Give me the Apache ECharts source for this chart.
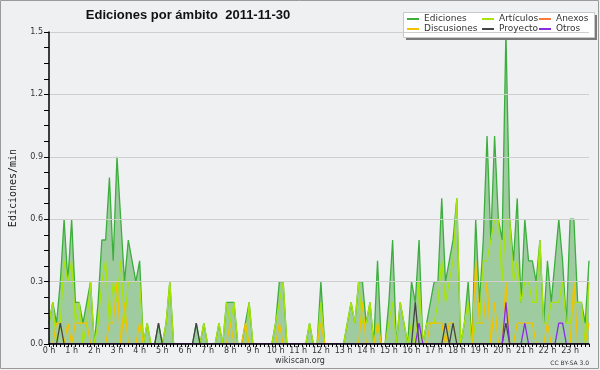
<!DOCTYPE html>
<html>
<head>
<meta charset="utf-8">
<script src="https://cdn.jsdelivr.net/npm/echarts@6/dist/echarts.min.js"></script>
<style>
html,body{margin:0;padding:0;background:#eff0f2;}
#c{width:600px;height:370px;}
</style>
</head>
<body>
<div id="c"></div>
<script>
// 10-minute slots, 0..143 (24 h)
const slotsPerHour = 6;
const categories = [];
for (let i = 0; i < 144; i++) {
  categories.push(Math.floor(i / slotsPerHour) + ':' + String((i % slotsPerHour) * 10).padStart(2, '0'));
}
const seriesNames = ['Ediciones', 'Artículos', 'Anexos', 'Discusiones', 'Proyecto', 'Otros'];

const ediciones = [
  0.1,0.2,0.1,0.3,0.6,0.3,0.6,0.2,0.2,0.1,0.2,0.3,
  0,0.2,0.5,0.5,0.8,0.4,0.9,0.6,0.3,0.5,0.4,0.3,
  0.4,0,0.1,0,0,0.1,0,0.1,0.3,0,0,0,
  0,0,0,0.1,0,0.1,0,0,0,0.1,0,0.2,
  0.2,0.2,0,0,0.1,0.2,0,0,0,0,0,0,
  0.1,0.3,0.3,0,0,0,0,0,0,0.1,0,0,
  0.3,0,0,0,0,0,0,0.1,0.2,0.1,0.3,0.3,
  0.1,0.2,0,0.4,0,0,0.2,0.5,0,0.2,0.1,0,
  0.3,0.2,0.5,0,0.1,0.2,0.3,0.3,0.7,0.3,0.4,0.5,
  0.7,0,0.1,0.3,0,0.6,0.2,0.5,1.0,0.5,1.0,0.6,
  0.5,1.5,0.6,0.4,0.7,0.2,0.6,0.4,0.4,0.3,0.5,0.1,
  0.4,0.2,0.4,0.6,0.4,0.1,0.6,0.6,0.2,0.2,0.1,0.4
];
const articulos = [
  0.1,0.2,0,0.1,0.4,0.3,0.4,0.1,0.2,0,0.1,0.3,
  0,0.1,0.3,0.4,0.1,0.3,0.2,0.4,0.1,0.3,0.3,0.3,
  0.3,0,0.1,0,0,0,0,0.1,0.3,0,0,0,
  0,0,0,0,0,0.1,0,0,0,0.1,0,0.2,
  0.1,0.2,0,0,0,0.2,0,0,0,0,0,0,
  0.1,0.2,0.3,0,0,0,0,0,0,0.1,0,0,
  0.2,0,0,0,0,0,0,0.1,0.2,0.1,0.3,0.1,
  0.1,0.2,0,0.1,0,0,0.1,0.2,0,0.2,0.1,0,
  0.1,0,0.3,0,0.1,0.1,0.1,0.2,0.4,0.2,0.3,0.4,
  0.7,0,0.1,0.2,0,0.1,0.1,0.4,0.4,0.5,0.6,0.6,
  0.3,0.6,0.6,0.3,0.4,0.2,0.3,0.3,0.2,0.2,0.5,0.1,
  0.1,0.2,0.2,0.2,0.3,0.1,0.1,0.2,0.2,0.2,0,0.3
];
const anexos = [
  0,0,0,0,0,0,0,0,0,0,0,0,
  0,0,0,0,0,0,0,0,0,0,0,0,
  0,0,0,0,0,0,0,0,0,0,0,0,
  0,0,0,0,0,0,0,0,0,0,0,0,
  0,0,0,0,0,0,0,0,0,0,0,0,
  0,0,0,0,0,0,0,0,0,0,0,0,
  0,0,0,0,0,0,0,0,0,0,0,0,
  0,0,0,0,0,0,0,0,0,0,0,0,
  0,0,0,0,0,0,0,0,0,0,0,0,
  0,0,0,0,0,0,0,0,0,0,0,0,
  0,0,0,0,0,0,0,0,0,0,0,0,
  0,0,0,0,0,0,0,0,0,0,0,0
];
const discusiones = [
  0,0,0.1,0.1,0,0.1,0,0.1,0.1,0.1,0.1,0,
  0,0,0,0,0.1,0.1,0.3,0,0.2,0,0,0,
  0.1,0,0,0,0,0,0,0,0,0,0,0,
  0,0,0,0,0,0,0,0,0,0,0,0,
  0.1,0,0,0,0.1,0,0,0,0,0,0,0,
  0,0.1,0,0,0,0,0,0,0,0,0,0,
  0.1,0,0,0,0,0,0,0,0,0,0,0.2,
  0,0,0,0.1,0,0,0,0,0,0,0,0,
  0,0,0,0,0,0.1,0.1,0.1,0.1,0,0.1,0.1,
  0,0,0,0,0,0.4,0.1,0.1,0.3,0,0.2,0,
  0,0.3,0,0,0.1,0.1,0.1,0.1,0.1,0,0,0,
  0.1,0,0,0,0,0,0,0.3,0,0,0,0.1
];
const proyecto = [
  0,0,0,0.1,0,0,0,0,0,0,0,0,
  0,0,0,0,0,0,0,0,0,0,0,0,
  0,0,0,0,0,0.1,0,0,0,0,0,0,
  0,0,0,0.1,0,0,0,0,0,0,0,0,
  0,0,0,0,0,0,0,0,0,0,0,0,
  0,0,0,0,0,0,0,0,0,0,0,0,
  0,0,0,0,0,0,0,0,0,0,0,0,
  0,0,0,0,0,0,0,0,0,0,0,0,
  0,0.2,0,0,0,0,0,0,0,0.1,0,0.1,
  0,0,0,0,0,0,0,0,0,0,0,0,
  0,0.1,0,0,0,0,0,0,0,0,0,0,
  0,0,0,0,0,0,0,0,0,0,0,0
];
const otros = [
  0,0,0,0,0,0,0,0,0,0,0,0,
  0,0,0,0,0,0,0,0,0,0,0,0,
  0,0,0,0,0,0,0,0,0,0,0,0,
  0,0,0,0,0,0,0,0,0,0,0,0,
  0,0,0,0,0,0,0,0,0,0,0,0,
  0,0,0,0,0,0,0,0,0,0,0,0,
  0,0,0,0,0,0,0,0,0,0,0,0,
  0,0,0,0,0,0,0,0,0,0,0,0,
  0,0,0.1,0,0,0,0,0,0,0,0,0,
  0,0,0,0,0,0,0,0,0,0,0,0,
  0,0.2,0,0,0,0,0.1,0,0,0,0,0,
  0,0,0,0.1,0.1,0,0,0,0,0,0,0
];
const yTicks = [0, 0.3, 0.6, 0.9, 1.2, 1.5];

const colors = {
  'Ediciones': '#3cae3c',
  'Artículos': '#a6e40a',
  'Anexos': '#ff7a3a',
  'Discusiones': '#f2c200',
  'Proyecto': '#444444',
  'Otros': '#8a2be2'
};
const dataMap = {
  'Ediciones': ediciones, 'Artículos': articulos, 'Anexos': anexos,
  'Discusiones': discusiones, 'Proyecto': proyecto, 'Otros': otros
};

const series = seriesNames.map(function (n, k) {
  const s = {
    name: n, type: 'line', data: dataMap[n], symbol: 'none',
    lineStyle: {width: 1.3, color: colors[n]},
    itemStyle: {color: colors[n]},
    z: 2 + k * 0.01, animation: false
  };
  if (n === 'Ediciones') s.areaStyle = {color: 'rgba(60,160,60,0.45)', opacity: 1};
  return s;
});

const legendCommon = {
  padding: 0, itemWidth: 12, itemHeight: 2, icon: 'rect', itemGap: 0, selectedMode: false, z: 5,
  textStyle: {fontSize: 9, fontFamily: 'DejaVu Sans', color: '#333', lineHeight: 10}
};
const legendLayout = [
  ['Ediciones', 407, 14], ['Discusiones', 407, 24],
  ['Artículos', 482, 14], ['Proyecto', 482, 24],
  ['Anexos', 539, 14], ['Otros', 539, 24]
];

const chart = echarts.init(document.getElementById('c'));
chart.setOption({
  backgroundColor: '#eff0f2',
  animation: false,
  grid: {left: 46, right: 11, top: 32, bottom: 26, containLabel: false},
  legend: legendLayout.map(function (l) {
    return Object.assign({}, legendCommon, {data: [l[0]], left: l[1], top: l[2]});
  }),
  xAxis: {
    type: 'category', data: categories, boundaryGap: false, z: 3,
    axisLine: {lineStyle: {color: '#000', width: 1.5}},
    axisTick: {show: true, interval: 0, length: 3, lineStyle: {color: '#000'}},
    axisLabel: {
      interval: 5, margin: 3, fontSize: 8, fontFamily: 'DejaVu Sans', color: '#333',
      formatter: function (v) { return parseInt(v, 10) + ' h'; }
    },
    splitLine: {show: false}
  },
  yAxis: {
    type: 'value', min: 0, max: 1.5, interval: 0.3, z: 3,
    name: 'Ediciones/min', nameLocation: 'middle', nameRotate: 90, nameGap: 31,
    nameTextStyle: {fontFamily: 'DejaVu Sans Mono', fontSize: 10, color: '#222'},
    axisLine: {show: true, lineStyle: {color: '#000', width: 1.5}},
    axisTick: {show: true, length: 5, lineStyle: {color: '#000'}},
    minorTick: {show: true, splitNumber: 4, length: 5, lineStyle: {color: '#000'}},
    axisLabel: {
      margin: 6, fontSize: 8, fontFamily: 'DejaVu Sans', color: '#333',
      formatter: function (v) { return yTicks.indexOf(+v.toFixed(1)) >= 0 ? v.toFixed(1) : ''; }
    },
    splitLine: {show: true, lineStyle: {color: '#cfcfcf', width: 1}}
  },
  graphic: [
    {type: 'rect', z: 0, shape: {x: 0.5, y: 0.5, width: 598, height: 368}, style: {fill: 'none', stroke: '#9a9a9a', lineWidth: 1}},
    {type: 'rect', z: 3, shape: {x: 406, y: 15, width: 191, height: 25}, style: {fill: '#7a7a7a'}},
    {type: 'rect', z: 3, shape: {x: 403.5, y: 12.5, width: 191, height: 25}, style: {fill: '#ffffff', stroke: '#c8c8c8', lineWidth: 1}},
    {type: 'text', z: 5, x: 188, y: 15, style: {text: 'Ediciones por ámbito  2011-11-30', fontSize: 13, fontWeight: 'bold', fontFamily: 'Liberation Sans', fill: '#111', align: 'center', verticalAlign: 'middle'}},
    {type: 'text', z: 5, x: 300, y: 361, style: {text: 'wikiscan.org', fontSize: 8, fontFamily: 'DejaVu Sans', fill: '#333', align: 'center', verticalAlign: 'middle'}},
    {type: 'text', z: 5, x: 589, y: 363, style: {text: 'CC BY-SA 3.0', fontSize: 6, fontFamily: 'DejaVu Sans', fill: '#333', align: 'right', verticalAlign: 'middle'}}
  ],
  series: series
});
</script>
</body>
</html>
